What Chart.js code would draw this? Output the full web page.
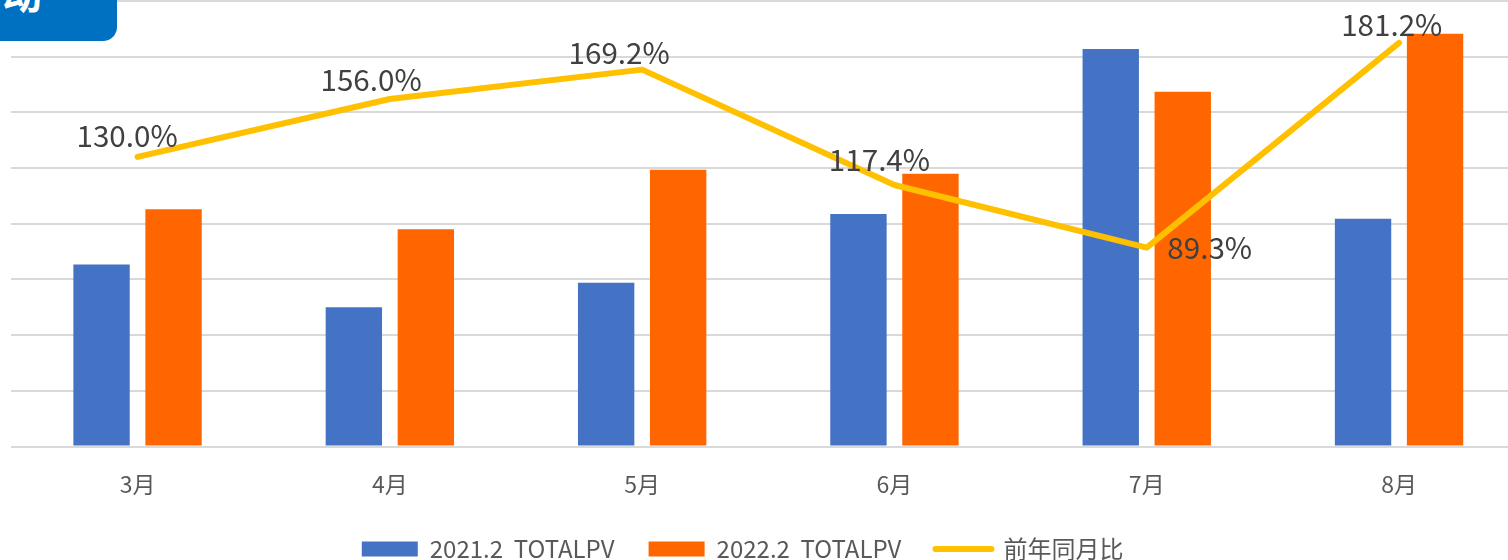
<!DOCTYPE html>
<html><head><meta charset="utf-8">
<script src="https://cdn.jsdelivr.net/npm/chart.js@4"></script>
<style>
html,body{margin:0;padding:0;background:#fff;overflow:hidden;width:1508px;height:560px;position:relative}
#wrap{position:absolute;left:0;top:0;width:1532px;height:571px}
#title{position:absolute;left:0;top:0;width:117px;height:41px;background:#0070C0;border-bottom-right-radius:14px;overflow:hidden;z-index:2}
#title span{position:absolute;left:2px;top:-32px;font:bold 40px "Noto Sans CJK SC",sans-serif;color:#fff;line-height:48px}
</style></head><body>
<div id="wrap"><canvas id="c" width="1532" height="571"></canvas></div>
<div id="title"><span>动</span></div>
<script>
const categories = ['3月','4月','5月','6月','7月','8月'];
const pv2021 = [32700, 25000, 29400, 41750, 71400, 40900];
const pv2022 = [42600, 39000, 49700, 49000, 63700, 74100];
const yoyPct = [130.0, 156.0, 169.2, 117.4, 89.3, 181.2];
const seriesNames = ['2021.2  TOTALPV', '2022.2  TOTALPV', '前年同月比'];
const pvTicks = {min: 0, max: 80000, step: 10000};
const pctTicks = {min: 0, max: 200};

// label placement relative to each point: [dx of text centre, dy of baseline]
const labelPlacement = [[-10.5,-9.6],[-18.8,-8],[-23,-5.5],[-15,-14.4],[63,11],[-7.3,-7]];

Chart.defaults.font.family = '"Noto Sans CJK SC", sans-serif';

const pctLabels = {
  id: 'pctLabels',
  afterDatasetsDraw(chart) {
    const ctx = chart.ctx;
    const meta = chart.getDatasetMeta(2);
    ctx.save();
    ctx.font = '29.6px "Noto Sans CJK SC", sans-serif';
    ctx.fillStyle = '#404040';
    ctx.textAlign = 'center';
    ctx.textBaseline = 'alphabetic';
    meta.data.forEach((pt, i) => {
      const [dx, dy] = labelPlacement[i];
      ctx.fillText(yoyPct[i].toFixed(1) + '%', pt.x + dx, pt.y + dy);
    });
    ctx.restore();
  }
};

new Chart(document.getElementById('c'), {
  data: {
    labels: categories,
    datasets: [
      {type: 'bar', label: seriesNames[0], data: pv2021, backgroundColor: '#4472C4', yAxisID: 'y', order: 1,
       categoryPercentage: 0.5708, barPercentage: 0.783},
      {type: 'bar', label: seriesNames[1], data: pv2022, backgroundColor: '#FF6600', yAxisID: 'y', order: 1,
       categoryPercentage: 0.5708, barPercentage: 0.783},
      {type: 'line', label: seriesNames[2], data: yoyPct, borderColor: '#FFC000', backgroundColor: '#FFC000',
       borderWidth: 6, pointRadius: 0, tension: 0, borderJoinStyle: 'round', borderCapStyle: 'round', yAxisID: 'y1', order: 0}
    ]
  },
  options: {
    responsive: false,
    animation: false,
    devicePixelRatio: 1,
    layout: {padding: {left: -40, right: 6.8, top: 1, bottom: 0}},
    scales: {
      x: {
        grid: {display: false},
        border: {display: false},
        ticks: {color: '#595959', font: {size: 23}, padding: 15.5},
        afterFit(s) { s.height = 56.5; }
      },
      y: {
        position: 'left',
        min: pvTicks.min, max: pvTicks.max,
        ticks: {display: false, stepSize: pvTicks.step},
        grid: {color: '#d9d9d9', lineWidth: 2, drawTicks: false},
        border: {display: false},
        afterFit(s) { s.width = 51.4; }
      },
      y1: {
        position: 'right', display: false,
        min: pctTicks.min, max: pctTicks.max,
        grid: {display: false}
      }
    },
    plugins: {
      tooltip: {enabled: false},
      legend: {
        position: 'bottom',
        labels: {
          color: '#595959',
          font: {size: 24},
          usePointStyle: true,
          pointStyleWidth: 56,
          boxWidth: 56,
          boxHeight: 15,
          padding: 34,
          sort: (a, b) => a.datasetIndex - b.datasetIndex,
          generateLabels(chart) {
            const items = Chart.defaults.plugins.legend.labels.generateLabels(chart);
            items.forEach(it => {
              const ds = chart.data.datasets[it.datasetIndex];
              if (ds.type === 'line') {
                it.pointStyle = 'line'; it.lineWidth = 6; it.strokeStyle = ds.borderColor; it.lineCap = 'round';
              } else {
                it.pointStyle = 'rect'; it.lineWidth = 0; it.fillStyle = ds.backgroundColor;
              }
            });
            return items;
          }
        }
      }
    }
  },
  plugins: [pctLabels]
});
</script>
</body></html>
